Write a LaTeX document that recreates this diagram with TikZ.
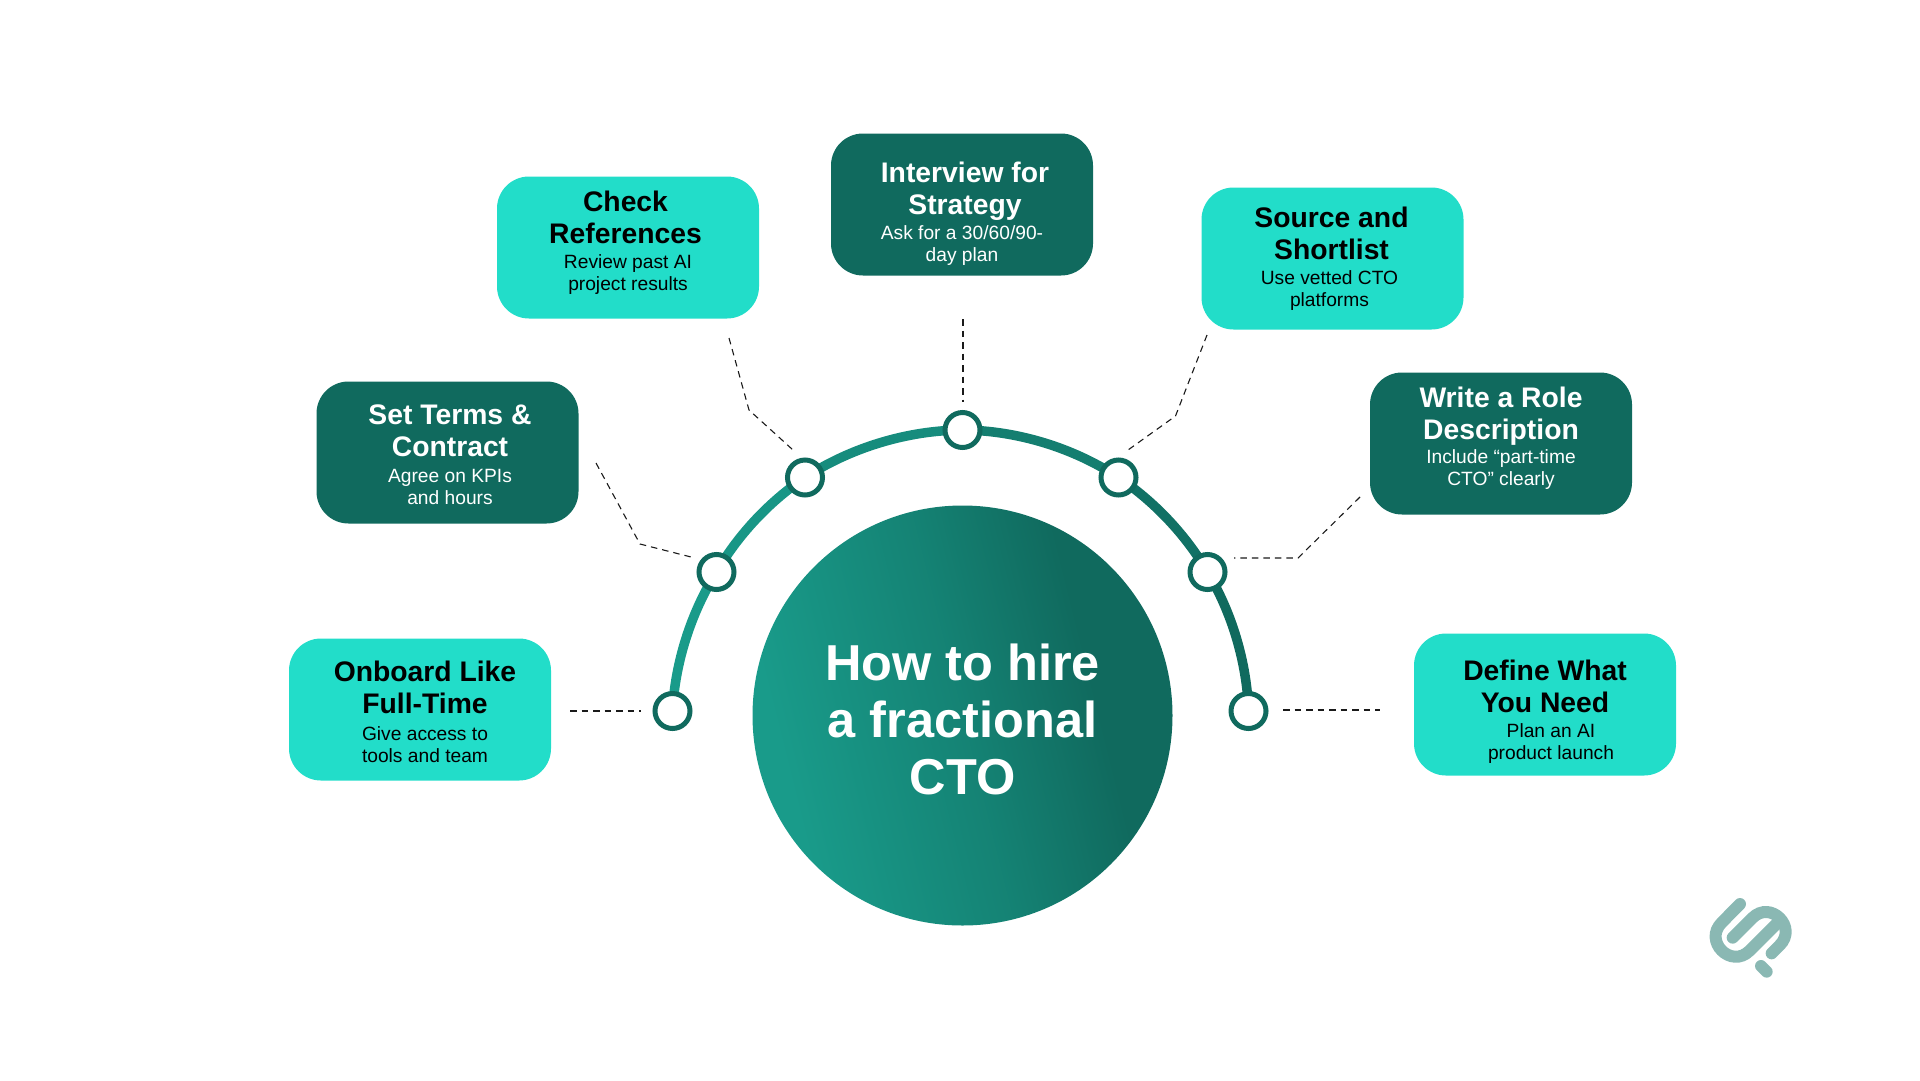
\documentclass[tikz,border=0pt]{standalone}
\usepackage{fontspec}
\setmainfont{Liberation Sans}
\usetikzlibrary{calc,backgrounds}
\definecolor{bright}{HTML}{22DDC9}
\definecolor{deep}{HTML}{106A5E}
\definecolor{lite}{HTML}{199B8A}
\definecolor{logoc}{HTML}{8AB8B3}
\definecolor{dashc}{HTML}{1A1A1A}
\pgfdeclarehorizontalshading{hubshade}{100bp}{color(0bp)=(lite); color(28bp)=(lite); color(50bp)=(lite!50!deep); color(66bp)=(deep); color(100bp)=(deep)}
\tikzset{
  cardbox/.style={rounded corners=32pt,minimum width=262pt,minimum height=142pt,inner sep=0pt},
  brightcard/.style={cardbox,fill=bright},
  deepcard/.style={cardbox,fill=deep},
  headtext/.style={anchor=north,inner sep=0pt,align=center,font=\fontsize{28.3}{32}\selectfont\bfseries},
  subtext/.style={anchor=north,inner sep=0pt,align=center,font=\fontsize{19.2}{22}\selectfont},
  stop/.style={circle,draw=deep,fill=white,line width=5pt,minimum size=35pt,inner sep=0pt},
  leader/.style={draw=dashc,line width=1.1pt,dash pattern=on 6.5pt off 5pt},
  arcline/.style={line width=9.5pt,looseness=.85},
  logoline/.style={draw=logoc,line width=12pt,line cap=round}
}
% name, centre, style, text colour, head offset, head, sub offset, sub
\newcommand\flowcard[8]{%
  \node[#3] (#1) at (#2) {};
  \node[headtext,text=#4] (#1h) at ($(#1.north)+(#5)$) {\rule{0pt}{22pt}#6};
  \node[subtext,text=#4] (#1s) at ($(#1.north)+(#7)$) {\rule{0pt}{16pt}#8};
}
\begin{document}
\begin{tikzpicture}[x=1pt,y=-1pt]
\useasboundingbox (0,0) rectangle (1920,1080);
% hub
\node[circle,minimum size=420pt,inner sep=0pt,shading=hubshade,shading angle=14] (hub) at (962.5,715.5) {};
\node[text=white,align=center,inner sep=0pt,font=\fontsize{50.5}{57}\selectfont\bfseries] (hubtext) at (962.5,719) {How to hire\\a fractional\\CTO};
% stops
\node[stop] (s1) at (672.5,711) {};
\node[stop] (s2) at (716.5,572) {};
\node[stop] (s3) at (805,477.5) {};
\node[stop] (s4) at (962.5,430) {};
\node[stop] (s5) at (1118.5,477.5) {};
\node[stop] (s6) at (1207.5,572) {};
\node[stop] (s7) at (1248.5,711) {};
\begin{scope}[on background layer]
  \draw[arcline,draw=lite] (s1.center) to[bend left=14.5] (s2.center);
  \draw[arcline,draw=lite!90!deep] (s2.center) to[bend left=13] (s3.center);
  \draw[arcline,draw=lite!70!deep] (s3.center) to[bend left=16.5] (s4.center);
  \draw[arcline,draw=lite!40!deep] (s4.center) to[bend left=16.5] (s5.center);
  \draw[arcline,draw=lite!15!deep] (s5.center) to[bend left=13] (s6.center);
  \draw[arcline,draw=deep] (s6.center) to[bend left=14.5] (s7.center);
\end{scope}
% cards
\flowcard{onboard}{420,709.5}{brightcard}{black}{5,21}{Onboard Like\\Full-Time}{5,86}{Give access to\\tools and team}
\flowcard{terms}{447.5,452.5}{deepcard}{white}{2.5,21}{Set Terms \&\\Contract}{2.5,85}{Agree on KPIs\\and hours}
\flowcard{refs}{628,247.5}{brightcard}{black}{-2.5,13}{Check\\References}{0,76}{Review past AI\\project results}
\flowcard{interview}{962,204.5}{deepcard}{white}{3,27}{Interview for\\Strategy}{0,90}{Ask for a 30/60/90-\\day plan}
\flowcard{source}{1332.5,258.5}{brightcard}{black}{-1,18}{Source and\\Shortlist}{-3,81}{Use vetted CTO\\platforms}
\flowcard{role}{1501,443.5}{deepcard}{white}{0,13}{Write a Role\\Description}{0,75}{Include “part-time\\CTO” clearly}
\flowcard{define}{1545,704.5}{brightcard}{black}{0,25}{Define What\\You Need}{6,88}{Plan an AI\\product launch}
% leaders
\coordinate (a1) at (570,711); \coordinate (a2) at (641,711);
\draw[leader] (a1) -- (a2);
\coordinate (b1) at (596,463); \coordinate (b2) at (640,544); \coordinate (b3) at (691,557);
\draw[leader] (b1) -- (b2) -- (b3);
\coordinate (c1) at (729,338); \coordinate (c2) at (749,410); \coordinate (c3) at (793,450);
\draw[leader] (c1) -- (c2) -- (c3);
\coordinate (d1) at (963,319); \coordinate (d2) at (963,402);
\draw[leader] (d1) -- (d2);
\coordinate (e1) at (1207,335); \coordinate (e2) at (1175.5,416); \coordinate (e3) at (1128,450);
\draw[leader] (e1) -- (e2) -- (e3);
\coordinate (f1) at (1360,497); \coordinate (f2) at (1298,558); \coordinate (f3) at (1234,558);
\draw[leader] (f1) -- (f2) -- (f3);
\coordinate (g1) at (1283,710); \coordinate (g2) at (1380,710);
\draw[leader] (g1) -- (g2);
% logo
\begin{scope}[shift={(1660,860)},x=.3333pt,y=-.3333pt]
  \draw[logoline] (240,132) -- (185,188) .. controls (129.4,243.6) and (213.4,327.6) .. (269,272) -- (350,191);
  \draw[logoline] (335,280) -- (359,256) .. controls (413.7,201.3) and (331.7,119.3) .. (277,174) -- (218,233);
  \draw[logoline] (303,318) -- (320,335);
\end{scope}
\end{tikzpicture}
\end{document}
